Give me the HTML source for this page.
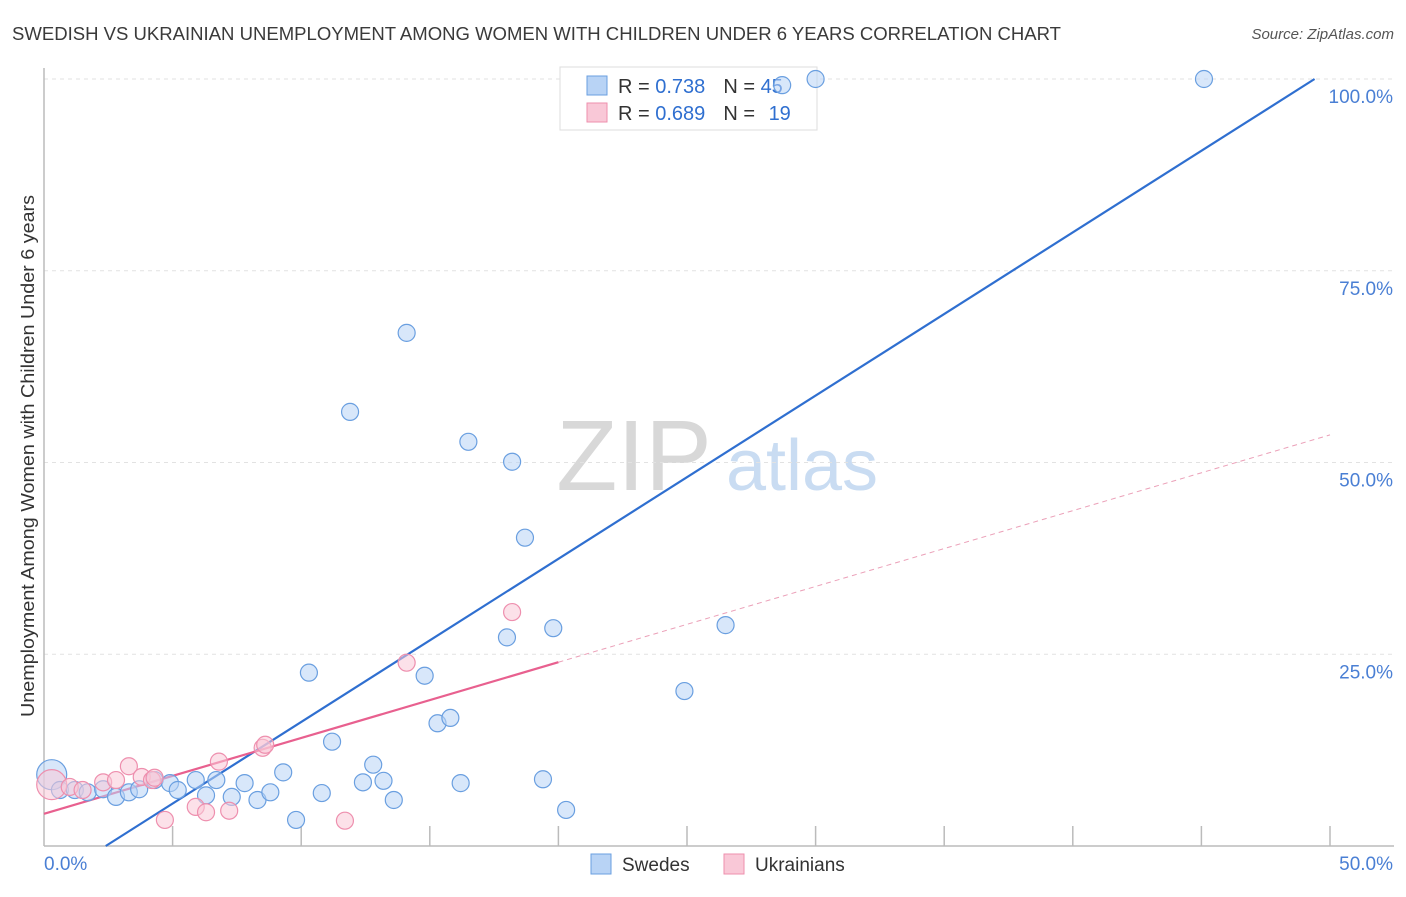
<!DOCTYPE html>
<html><head><meta charset="utf-8">
<style>
body{margin:0;background:#fff;font-family:"Liberation Sans",sans-serif;}
svg text{font-family:"Liberation Sans",sans-serif;}
</style></head>
<body>
<svg id="chart" width="1406" height="892" viewBox="0 0 1406 892" xmlns="http://www.w3.org/2000/svg">
<text x="12" y="40" font-size="18" fill="#3a3a3a" textLength="1049" lengthAdjust="spacingAndGlyphs">SWEDISH VS UKRAINIAN UNEMPLOYMENT AMONG WOMEN WITH CHILDREN UNDER 6 YEARS CORRELATION CHART</text>
<text x="1394" y="39" font-size="15" fill="#555" text-anchor="end" font-style="italic">Source: ZipAtlas.com</text>
<text transform="translate(34,456) rotate(-90)" font-size="18" fill="#333" text-anchor="middle" textLength="522" lengthAdjust="spacingAndGlyphs">Unemployment Among Women with Children Under 6 years</text>
<g>
<text x="634" y="490" font-size="100" fill="#d8d8d8" text-anchor="middle" font-family="Liberation Serif">ZIP</text>
<text x="802" y="490" font-size="72" fill="#c9dcf2" text-anchor="middle">atlas</text>
</g>
<g id="grid"></g>
<g id="axes"></g>
<g>
<rect x="560" y="67" width="257" height="63" fill="#fff" stroke="#ddd"/>
<rect x="587" y="76" width="20" height="19" fill="#b8d3f5" stroke="#6a9fe0"/>
<rect x="587" y="103" width="20" height="19" fill="#f9c8d7" stroke="#ee8fae"/>
<text x="618" y="93" font-size="20" fill="#333">R = <tspan fill="#2f6fd0">0.738</tspan><tspan dx="18">N = </tspan><tspan fill="#2f6fd0">45</tspan></text>
<text x="618" y="120" font-size="20" fill="#333">R = <tspan fill="#2f6fd0">0.689</tspan><tspan dx="18">N = </tspan><tspan fill="#2f6fd0" dx="8">19</tspan></text>
</g>
<g id="lines"></g>
<g id="points"></g>
<g>
<rect x="591" y="854" width="20" height="20" fill="#b8d3f5" stroke="#6a9fe0"/>
<text x="622" y="871" font-size="19" fill="#333">Swedes</text>
<rect x="724" y="854" width="20" height="20" fill="#f9c8d7" stroke="#ee8fae"/>
<text x="755" y="871" font-size="19" fill="#333">Ukrainians</text>
</g>
</svg>
<script>
const xTicks=[0,5,10,15,20,25,30,35,40,45,50];
const yTicks=[25,50,75,100];
const yTickLabels=["25.0%","50.0%","75.0%","100.0%"];
const xEndLabels=["0.0%","50.0%"];
const swedesX=[0.3,0.62,1.2,1.7,2.3,2.8,3.3,3.7,4.3,4.9,5.2,5.9,6.3,6.7,7.3,7.8,8.3,8.8,9.3,9.8,10.3,10.8,11.2,11.9,12.4,12.8,13.2,13.6,14.1,14.8,15.3,15.8,16.2,16.5,18.0,18.2,18.7,19.4,19.8,20.3,24.9,26.5,28.7,30.0,45.1];
const swedesY=[9.3,7.3,7.3,7.0,7.4,6.4,7.0,7.4,8.6,8.2,7.3,8.6,6.6,8.6,6.4,8.2,6.0,7.0,9.6,3.4,22.6,6.9,13.6,56.6,8.3,10.6,8.5,6.0,66.9,22.2,16.0,16.7,8.2,52.7,27.2,50.1,40.2,8.7,28.4,4.7,20.2,28.8,99.2,100,100];
const ukrX=[0.3,1.0,1.5,2.3,2.8,3.3,3.8,4.2,4.7,5.9,6.3,6.8,7.2,8.5,8.6,11.7,14.1,18.2,4.3];
const ukrY=[8.0,7.7,7.3,8.3,8.6,10.4,9.0,8.6,3.4,5.1,4.4,11.0,4.6,12.8,13.2,3.3,23.9,30.5,8.9];
const swedesTrend=[2.4,49.4];
const ukrTrend={intercept:4.2,slope:0.988,solidEnd:20,end:50};
const NS='http://www.w3.org/2000/svg';
const X=v=>44+v*25.72, Y=v=>846-v*7.67;
function mk(tag,attrs,parent){const e=document.createElementNS(NS,tag);for(const k in attrs)e.setAttribute(k,attrs[k]);document.getElementById(parent).appendChild(e);return e;}
yTicks.forEach((t,i)=>{
 const g=mk('line',{x1:44,x2:1394,y1:Y(t),y2:Y(t),stroke:'#e2e2e2','stroke-dasharray':'4,4'},'grid');
 
 
 const l=mk('text',{x:1393,y:Y(t)+24,'font-size':19,fill:'#4a7fd4','text-anchor':'end'},'axes');
 l.textContent=yTickLabels[i];
 
 
});
const ax=mk('line',{x1:44,x2:1394,y1:846,y2:846,stroke:'#bbb','stroke-width':1.5},'axes');


const ay=mk('line',{x1:44,x2:44,y1:68,y2:846,stroke:'#bbb','stroke-width':1.5},'axes');


xTicks.slice(1).forEach(t=>{
 const tk=mk('line',{x1:X(t),x2:X(t),y1:826,y2:846,stroke:'#bbb','stroke-width':1.5},'axes');
 
 
});
[[0,'start',44],[50,'end',1393]].forEach((d,i)=>{
 const t=mk('text',{x:d[2],y:870,'font-size':19,fill:'#4a7fd4','text-anchor':d[1]},'axes');
 t.textContent=xEndLabels[i];
 
 
});
function pts(xs,ys,fill,stroke,name){
 xs.forEach((x,i)=>{
  const big=i===0;
  const c=mk('circle',{cx:X(x),cy:Y(ys[i]),r:big?15:8.5,fill:fill,'fill-opacity':0.55,stroke:stroke,'stroke-width':1.2},'points');
  
  
 });
}
pts(swedesX,swedesY,'#b8d3f5','#6a9fe0','swedes-point');
pts(ukrX,ukrY,'#f9c8d7','#ee8fae','ukrainians-point');
const bl=mk('line',{x1:X(swedesTrend[0]),y1:Y(0),x2:X(swedesTrend[1]),y2:Y(100),stroke:'#2f6fd0','stroke-width':2.2},'lines');


const u=x=>ukrTrend.intercept+ukrTrend.slope*x;
const pl=mk('line',{x1:X(0),y1:Y(u(0)),x2:X(ukrTrend.solidEnd),y2:Y(u(ukrTrend.solidEnd)),stroke:'#e8608f','stroke-width':2.2},'lines');


const pd=mk('line',{x1:X(ukrTrend.solidEnd),y1:Y(u(ukrTrend.solidEnd)),x2:X(ukrTrend.end),y2:Y(u(ukrTrend.end)),stroke:'#eba0b8','stroke-width':1,'stroke-dasharray':'5,4'},'lines');


</script>
</body></html>
